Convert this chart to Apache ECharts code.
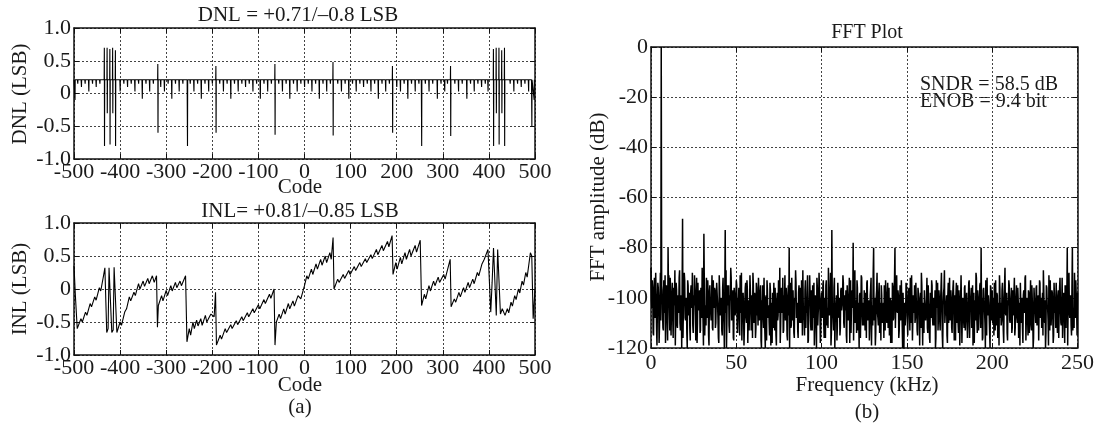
<!DOCTYPE html>
<html><head><meta charset="utf-8">
<script src="https://cdn.jsdelivr.net/npm/echarts@6/dist/echarts.min.js"></script>
<style>html,body{margin:0;padding:0;background:#fff}#c{width:1097px;height:430px}</style>
</head><body><div id="c"></div>
<script>
// ---------------- DATA ----------------
// DNL: flat level with downward ticks and large spikes
const dnlBase = 0.21;
const dnlTickCodes = [-492,-484,-476,-468,-460,-452,-444,
 -400,-392,-384,-376,-368,-360,-352,-344,-336,-328,
 -312,-304,-296,-288,-280,-272,-264,
 -248,-240,-232,-224,-216,-208,-200,
 -184,-176,-168,-160,-152,-144,-136,-128,-120,-112,-104,-96,-88,-80,-72,
 -56,-48,-40,-32,-24,-16,-8,0,8,16,24,32,40,48,56,
 72,80,88,96,104,112,120,128,136,144,152,160,168,176,184,
 200,208,216,224,232,240,248,
 262,270,278,288,296,304,310,
 326,334,342,352,360,368,376,384,392,398,
 446,454,462,470,478,486];
const dnlTickLows = [0.15,0.1,0.15,0.03,0.15,0.1,0.15,
 0.03,0.15,0.1,0.15,0.03,0.15,-0.08,0.15,0.03,0.15,
 0.1,0.03,0.15,-0.08,0.15,0.03,0.15,
 0.15,0.03,0.15,-0.08,0.15,0.03,0.15,
 0.15,0.03,0.15,-0.08,0.15,0.03,0.15,0.1,0.15,0.03,0.15,-0.08,0.15,0.03,0.15,
 0.15,0.03,0.15,-0.08,0.15,0.03,0.15,0.1,0.15,0.03,0.15,-0.08,0.15,0.03,0.15,
 0.15,0.03,0.15,-0.08,0.15,0.03,0.15,0.1,0.15,0.03,0.15,-0.08,0.15,0.03,0.15,
 0.1,0.03,0.15,-0.08,0.15,0.03,0.15,
 0.15,0.03,0.15,-0.08,0.15,0.03,0.15,
 0.15,0.03,0.15,-0.08,0.15,0.03,0.15,0.1,0.15,0.03,
 0.15,0.03,0.15,0.1,0.15,0.03];
const dnlSpikeCodes = [-498,-434,-428,-422,-416,-410,-318,-254,-192,-64,62,191,254,317,410,416,422,428,434,493,498];
const dnlSpikeHighs = [0.22,0.7,0.7,0.68,0.7,0.66,0.45,0.22,0.42,0.45,0.48,0.42,0.22,0.42,0.68,0.7,0.7,0.66,0.7,0.22,0.22];
const dnlSpikeLows  = [-0.1,-0.8,-0.3,-0.78,-0.3,-0.8,-0.6,-0.8,-0.6,-0.63,-0.64,-0.6,-0.8,-0.65,-0.8,-0.3,-0.78,-0.3,-0.8,-0.5,-0.1];

// INL: sawtooth
const inlCodes = [-500,-497,-493,-485,-482,-475,-472,-465,-462,-455,-452,-445,-442,-436,-433,
 -431,-429,-426,-424,-421,-418,-415,-413,-410,-407,
 -400,-397,-390,-386,-380,-377,-370,-367,-360,-357,-350,-347,-340,-337,-330,-326,-321,
 -319,-317,-310,-307,-300,-297,-290,-287,-280,-277,-270,-267,-258,
 -255,-250,-247,-242,-239,-234,-231,-225,-222,-215,-212,-203,-196,-193,-191,
 -183,-180,-172,-169,-160,-157,-148,-145,-136,-133,-124,-121,-112,-109,-100,-97,-88,-85,-76,-73,-66,
 -64,-61,-55,-52,-45,-42,-35,-32,-25,-22,-14,-8,0,
 5,8,15,18,25,28,35,38,45,48,55,58,62,
 64,72,75,84,87,96,99,108,111,120,123,132,135,144,147,156,159,168,171,180,183,190,
 192,198,201,208,211,218,221,228,231,240,243,251,
 254,260,263,270,273,280,283,290,293,302,305,316,
 318,325,328,335,338,345,348,355,358,365,368,375,378,385,390,398,
 401,404,407,410,413,416,419,422,425,429,
 435,440,443,448,451,456,459,464,467,472,475,480,483,490,493,496,500];
const inlValues = [0.35,-0.1,-0.6,-0.45,-0.5,-0.35,-0.4,-0.22,-0.27,-0.12,-0.17,0.02,-0.03,0.2,0.32,
 0.32,-0.66,-0.6,0.32,0.32,-0.66,-0.62,0.33,0.3,-0.66,
 -0.5,-0.55,-0.35,-0.3,-0.12,-0.18,-0.05,-0.1,0.08,0.0,0.12,0.04,0.16,0.08,0.2,0.1,0.2,
 -0.58,-0.25,-0.1,-0.18,-0.02,-0.1,0.05,-0.03,0.1,0.02,0.12,0.05,0.2,
 -0.8,-0.6,-0.7,-0.5,-0.6,-0.47,-0.56,-0.45,-0.55,-0.4,-0.5,-0.38,-0.42,-0.05,-0.85,
 -0.7,-0.76,-0.6,-0.66,-0.54,-0.6,-0.48,-0.54,-0.42,-0.48,-0.36,-0.42,-0.3,-0.36,-0.24,-0.3,-0.16,-0.22,-0.08,-0.14,0.0,
 -0.85,-0.5,-0.38,-0.45,-0.3,-0.38,-0.22,-0.3,-0.18,-0.26,-0.1,-0.15,0.05,
 0.2,0.15,0.3,0.22,0.38,0.3,0.45,0.36,0.5,0.4,0.55,0.45,0.78,
 0.0,0.15,0.1,0.22,0.16,0.28,0.22,0.34,0.28,0.4,0.34,0.46,0.4,0.52,0.46,0.6,0.52,0.66,0.58,0.72,0.64,0.81,
 0.22,0.4,0.3,0.48,0.38,0.55,0.45,0.6,0.5,0.66,0.56,0.74,
 -0.25,-0.08,-0.15,0.05,-0.03,0.12,0.05,0.18,0.1,0.22,0.15,0.45,
 -0.27,-0.15,-0.2,-0.05,-0.12,0.02,-0.05,0.1,0.02,0.15,0.08,0.25,0.2,0.38,0.45,0.6,
 0.62,-0.35,0.1,0.62,0.62,-0.4,0.6,0.62,-0.38,-0.3,
 -0.4,-0.3,-0.36,-0.2,-0.26,-0.1,-0.16,0.0,-0.06,0.12,0.06,0.25,0.18,0.55,0.5,-0.45,0.0];

// FFT: noise floor (dB) on 0.5 kHz bins and on the bins half-way between, plus tones
const fftBinKHz = 0.5;
const fftNoise = [
-88,-104,-96,-115,-92,-108,-99,-119,-94,-102,-111,-90,-100,-97,-112,-93,-106,-118,-95,-101,-109,-91,-113,-98,-105,
-94,-116,-100,-89,-107,-97,-112,-103,-92,-110,-99,-120,-96,-104,-90,-108,-101,-114,-93,-106,-98,-117,-95,-103,-111,
-99,-91,-107,-102,-118,-94,-105,-97,-113,-100,-88,-109,-96,-115,-103,-92,-108,-99,-119,-95,-106,-101,-112,-93,-104,
-97,-110,-94,-102,-116,-91,-107,-100,-113,-96,-105,-120,-98,-89,-109,-103,-95,-114,-101,-92,-108,-97,-117,-99,-106,
-93,-111,-100,-96,-115,-104,-90,-108,-98,-119,-102,-94,-110,-97,-106,-113,-91,-103,-99,-116,-95,-107,-101,-112,-96,
-104,-92,-109,-98,-117,-101,-95,-112,-106,-120,-99,-93,-108,-103,-115,-97,-110,-118,-100,-94,-113,-105,-119,-98,-107,
-102,-88,-111,-96,-106,-114,-99,-91,-108,-103,-117,-95,-104,-100,-112,-92,-109,-97,-116,-101,-94,-107,-113,-98,-105,
-96,-110,-100,-89,-107,-115,-93,-104,-99,-118,-102,-91,-109,-97,-113,-105,-94,-111,-100,-120,-96,-106,-90,-103,-114,
-98,-108,-93,-116,-101,-95,-111,-104,-88,-107,-99,-119,-97,-105,-113,-92,-109,-102,-117,-94,-106,-100,-112,-96,-103,
-91,-110,-99,-105,-115,-95,-108,-101,-118,-93,-104,-97,-112,-100,-89,-107,-114,-96,-102,-120,-98,-106,-92,-111,-103,
-97,-113,-101,-94,-109,-104,-117,-99,-92,-106,-111,-96,-103,-119,-100,-90,-108,-98,-114,-102,-95,-110,-105,-116,-99,
-93,-107,-100,-112,-96,-104,-118,-101,-94,-109,-97,-115,-103,-91,-106,-99,-113,-95,-108,-102,-120,-98,-105,-111,-94,
-100,-115,-97,-106,-92,-110,-103,-117,-99,-95,-108,-101,-113,-96,-104,-119,-98,-90,-107,-102,-114,-97,-109,-100,-112,
-95,-105,-118,-99,-93,-108,-103,-111,-97,-116,-101,-94,-107,-100,-113,-96,-104,-120,-98,-89,-106,-102,-115,-99,-110,
-92,-109,-101,-114,-96,-105,-99,-117,-94,-103,-110,-97,-119,-100,-91,-107,-104,-112,-95,-108,-98,-116,-102,-93,-106,
-99,-112,-95,-104,-118,-101,-90,-108,-97,-113,-103,-94,-110,-100,-116,-96,-105,-120,-98,-92,-107,-102,-114,-95,-109,
-97,-104,-115,-100,-93,-111,-99,-106,-119,-96,-102,-109,-94,-113,-101,-88,-107,-98,-117,-103,-95,-110,-100,-114,-97,
-105,-92,-112,-99,-108,-96,-116,-102,-94,-110,-100,-118,-97,-104,-91,-109,-103,-115,-98,-106,-93,-113,-101,-120,-96,
-103,-110,-95,-107,-99,-117,-94,-105,-112,-98,-89,-108,-101,-114,-96,-104,-119,-100,-93,-111,-97,-106,-115,-99,-102,
-94,-109,-100,-116,-96,-103,-111,-92,-107,-98,-118,-101,-95,-113,-104,-90,-108,-99,-115,-97,-106,-112,-100,-93,-105,
-98];
const fftNoiseMid = [
-101,-93,-114,-99,-107,-90,-112,-104,-96,-118,-100,-109,-95,-106,-113,-98,-91,-110,-103,-117,-97,-105,-92,-115,-100,
-108,-96,-103,-119,-94,-111,-99,-106,-89,-113,-102,-97,-116,-104,-93,-109,-100,-120,-95,-107,-112,-98,-104,-90,-114,
-103,-97,-117,-92,-110,-105,-99,-114,-96,-108,-101,-119,-94,-106,-111,-100,-93,-115,-98,-104,-109,-91,-113,-102,-96,
-112,-100,-94,-108,-118,-97,-105,-101,-115,-92,-110,-98,-106,-120,-95,-103,-111,-99,-88,-109,-104,-116,-96,-107,-100,
-95,-114,-102,-109,-91,-106,-117,-99,-104,-112,-96,-108,-93,-118,-101,-105,-97,-113,-103,-90,-110,-98,-116,-94,-107,
-111,-99,-106,-95,-120,-103,-108,-92,-114,-100,-117,-97,-105,-110,-94,-119,-102,-98,-112,-106,-96,-115,-101,-109,-93,
-106,-118,-98,-104,-92,-113,-101,-109,-96,-115,-99,-107,-120,-94,-111,-103,-97,-114,-100,-89,-108,-102,-116,-95,-110,
-100,-93,-115,-103,-109,-97,-112,-106,-91,-117,-101,-98,-113,-104,-95,-108,-119,-99,-105,-92,-111,-103,-96,-118,-101,
-107,-95,-110,-100,-116,-93,-104,-112,-98,-106,-90,-114,-102,-109,-96,-120,-103,-99,-111,-94,-108,-115,-97,-105,-101,
-94,-112,-103,-97,-118,-100,-109,-92,-106,-114,-98,-104,-117,-95,-110,-101,-93,-113,-107,-99,-116,-91,-105,-102,-111,
-104,-98,-116,-93,-107,-101,-112,-96,-119,-103,-90,-109,-100,-114,-97,-106,-111,-94,-105,-117,-99,-108,-102,-95,-113,
-99,-110,-94,-106,-115,-100,-103,-118,-96,-108,-92,-112,-101,-105,-97,-116,-104,-109,-93,-111,-98,-120,-102,-107,-95,
-109,-101,-96,-113,-104,-91,-117,-99,-106,-110,-94,-102,-115,-98,-107,-100,-112,-95,-119,-103,-97,-108,-105,-92,-114,
-102,-116,-98,-108,-95,-111,-100,-106,-120,-93,-104,-113,-97,-109,-101,-90,-115,-103,-96,-110,-107,-99,-118,-94,-105,
-108,-97,-112,-101,-93,-117,-104,-99,-110,-95,-114,-102,-106,-91,-118,-100,-109,-96,-113,-103,-98,-111,-94,-116,-101,
-96,-106,-119,-98,-103,-109,-92,-114,-100,-107,-95,-112,-104,-117,-97,-101,-110,-93,-115,-105,-99,-108,-120,-96,-103,
-110,-100,-94,-113,-105,-98,-116,-102,-91,-108,-111,-97,-104,-118,-95,-106,-99,-114,-101,-93,-109,-103,-96,-112,-107,
-98,-115,-103,-95,-110,-101,-107,-119,-94,-104,-112,-99,-106,-92,-117,-100,-108,-97,-114,-102,-111,-95,-105,-116,-100,
-106,-96,-111,-102,-117,-93,-108,-100,-104,-115,-97,-110,-120,-95,-103,-109,-91,-113,-101,-107,-98,-118,-94,-106,-112,
-101,-114,-97,-105,-92,-110,-103,-116,-99,-107,-95,-112,-100,-119,-94,-106,-102,-111,-96,-113,-104,-90,-108,-99,-115];
const fftToneKHz = [6,10,18.5,31,43.5,81,106,118.5,130.5,143,193.5,244,247];
const fftToneDB  = [0,-80,-68.5,-74.5,-73,-80,-73,-78,-80,-80,-80,-80,-80];

const codeTicks = [-500,-400,-300,-200,-100,0,100,200,300,400,500];
const lsbTicks = [-1.0,-0.5,0,0.5,1.0];
const freqTicks = [0,50,100,150,200,250];
const dbTicks = [0,-20,-40,-60,-80,-100,-120];

// ---------------- BUILD ----------------
const events = [];
dnlTickCodes.forEach((c,i)=>events.push({c:c,h:dnlBase,l:dnlTickLows[i]}));
dnlSpikeCodes.forEach((c,i)=>events.push({c:c,h:dnlSpikeHighs[i],l:dnlSpikeLows[i]}));
events.sort((a,b)=>a.c-b.c);
const dnlData = [[codeTicks[0], dnlBase]];
events.forEach(e=>{
  dnlData.push([e.c-0.6, dnlBase],[e.c-0.2, e.h],[e.c+0.2, e.l],[e.c+0.6, dnlBase]);
});
dnlData.push([codeTicks[codeTicks.length-1], dnlBase]);
const inlData = inlCodes.map((c,i)=>[c, inlValues[i]]);
const fftMain = fftNoise.map((v,i)=>[i*fftBinKHz, v]);
fftToneKHz.forEach((f,i)=>{ fftMain[Math.round(f/fftBinKHz)][1] = fftToneDB[i]; });
const fftData = [];
fftMain.forEach((p,i)=>{
  fftData.push(p);
  if (i < fftNoiseMid.length) fftData.push([(i+0.5)*fftBinKHz, fftNoiseMid[i]]);
});

const FONT = 'Liberation Serif';
const TXT = '#1a1a1a';
const grids = [
  {left:74, top:28, width:461, height:131},
  {left:74, top:223, width:461, height:132},
  {left:651, top:47, width:432, height:301}
];
const gridLine = {show:true, lineStyle:{color:'#444', type:[2,2], width:1}};
const xAxes = [], yAxes = [];
function addAxes(gi, xt, yt, yfmt, xmargin){
  const base = {gridIndex:gi, type:'value', axisLine:{show:true, onZero:false, lineStyle:{color:'#111', width:1.5}},
                axisTick:{show:true, inside:true, length:5, lineStyle:{color:'#111'}}};
  xAxes.push(Object.assign({}, base, {position:'bottom', min:xt[0], max:xt[xt.length-1], interval:xt[1]-xt[0],
    splitLine:gridLine, axisLabel:{color:TXT, fontFamily:FONT, fontSize:22, margin:xmargin, showMinLabel:true, showMaxLabel:true}}));
  xAxes.push(Object.assign({}, base, {position:'top', min:xt[0], max:xt[xt.length-1], interval:xt[1]-xt[0],
    splitLine:{show:false}, axisLabel:{show:false}}));
  const ymin = Math.min.apply(null, yt), ymax = Math.max.apply(null, yt);
  yAxes.push(Object.assign({}, base, {position:'left', min:ymin, max:ymax, interval:Math.abs(yt[1]-yt[0]),
    splitLine:gridLine, axisLabel:{color:TXT, fontFamily:FONT, fontSize:22, margin:3, formatter:yfmt}}));
  yAxes.push(Object.assign({}, base, {position:'right', min:ymin, max:ymax, interval:Math.abs(yt[1]-yt[0]),
    splitLine:{show:false}, axisLabel:{show:false}}));
}
const lsbFmt = v => v===0 ? '0' : v.toFixed(1);
addAxes(0, codeTicks, lsbTicks, lsbFmt, 2);
addAxes(1, codeTicks, lsbTicks, lsbFmt, 2);
addAxes(2, freqTicks, dbTicks, v => String(v), 4);

function txt(t, x, y, size, opt){
  return Object.assign({type:'text', x:x, y:y, style:{text:t, fill:TXT, font:size+'px "'+FONT+'"', textAlign:'center', textVerticalAlign:'middle'}}, opt||{});
}
const graphics = [
  txt('DNL = +0.71/\u20130.8 LSB', 298, 15, 21),
  txt('Code', 300, 187, 21),
  txt('INL= +0.81/\u20130.85 LSB', 300, 211, 21),
  txt('Code', 300, 385, 21),
  txt('(a)', 300, 407, 21),
  txt('FFT Plot', 867, 33, 20),
  txt('Frequency (kHz)', 867, 385, 21),
  txt('(b)', 867, 412, 21),
  {type:'text', x:20, y:94, rotation:Math.PI/2, style:{text:'DNL (LSB)', fill:TXT, font:'21px "'+FONT+'"', textAlign:'center', textVerticalAlign:'middle'}},
  {type:'text', x:20, y:289, rotation:Math.PI/2, style:{text:'INL (LSB)', fill:TXT, font:'21px "'+FONT+'"', textAlign:'center', textVerticalAlign:'middle'}},
  {type:'text', x:598, y:197, rotation:Math.PI/2, style:{text:'FFT amplitude (dB)', fill:TXT, font:'21px "'+FONT+'"', textAlign:'center', textVerticalAlign:'middle'}},
  {type:'text', x:920, y:85, style:{text:'SNDR = 58.5 dB', fill:TXT, font:'20px "'+FONT+'"', textAlign:'left', textVerticalAlign:'middle'}},
  {type:'text', x:920, y:102, style:{text:'ENOB = 9.4 bit', fill:TXT, font:'20px "'+FONT+'"', textAlign:'left', textVerticalAlign:'middle'}}
];

const lineBase = {type:'line', showSymbol:false, symbol:'none', animation:false, lineStyle:{color:'#000', width:1.1}};
const chart = echarts.init(document.getElementById('c'), null, {renderer:'canvas'});
chart.setOption({
  animation:false,
  backgroundColor:'#fff',
  grid: grids,
  xAxis: xAxes,
  yAxis: yAxes,
  graphic: graphics,
  series: [
    Object.assign({}, lineBase, {name:'DNL', xAxisIndex:0, yAxisIndex:0, data:dnlData}),
    Object.assign({}, lineBase, {name:'INL', xAxisIndex:2, yAxisIndex:2, data:inlData}),
    Object.assign({}, lineBase, {name:'FFT', xAxisIndex:4, yAxisIndex:4, data:fftData, lineStyle:{color:'#000', width:1.5}})
  ]
});
</script></body></html>
